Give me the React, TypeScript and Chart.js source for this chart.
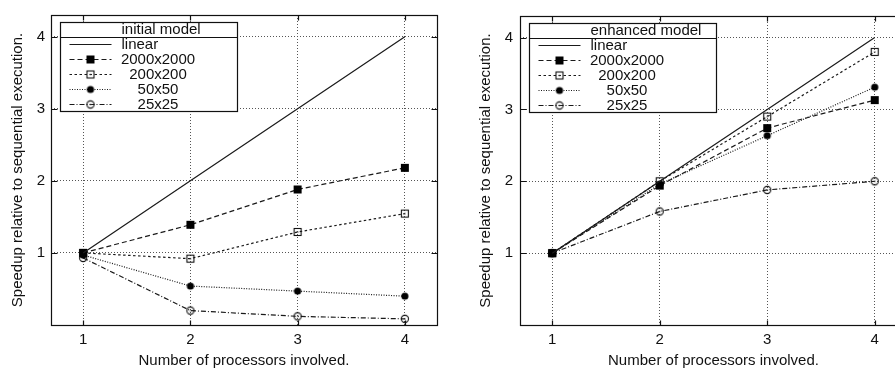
import React, { useEffect, useRef } from "react";
import { Chart, registerables } from "chart.js";
Chart.register(...registerables);

const processors = [1, 2, 3, 4];
const yTicks = [1, 2, 3, 4];
const seriesNames = ["linear", "2000x2000", "200x200", "50x50", "25x25"];

const initialLinear = [1, 2, 3, 4];
const initial2000 = [1.0, 1.39, 1.88, 2.18];
const initial200 = [1.0, 0.92, 1.29, 1.545];
const initial50 = [0.97, 0.54, 0.47, 0.4];
const initial25 = [0.93, 0.2, 0.12, 0.085];

const enhancedLinear = [1, 2, 3, 4];
const enhanced2000 = [1.0, 1.94, 2.74, 3.13];
const enhanced200 = [1.0, 2.0, 2.9, 3.8];
const enhanced50 = [1.0, 1.96, 2.635, 3.31];
const enhanced25 = [1.0, 1.58, 1.88, 2.0];

const FONT = '"Liberation Sans", Arial, Helvetica, sans-serif';

function makeMarker(kind: string): HTMLCanvasElement {
  const c = document.createElement("canvas");
  c.width = 12;
  c.height = 12;
  const g = c.getContext("2d")!;
  g.fillStyle = "#000";
  g.strokeStyle = "#111";
  g.lineWidth = 1.1;
  if (kind === "fsq") {
    g.fillRect(2, 2, 8, 8);
  } else if (kind === "osq") {
    g.strokeRect(2.5, 2.5, 7, 7);
    g.fillStyle = "#444";
    g.fillRect(5.4, 5.4, 1.3, 1.3);
  } else if (kind === "fci") {
    g.beginPath();
    g.arc(6, 6, 3.6, 0, Math.PI * 2);
    g.fill();
  } else {
    g.beginPath();
    g.arc(6, 6, 3.6, 0, Math.PI * 2);
    g.stroke();
    g.fillStyle = "#444";
    g.fillRect(5.4, 5.4, 1.3, 1.3);
  }
  return c;
}

const dashes: number[][] = [[], [5, 3], [2.5, 2.5], [1, 1.5], [5, 2, 1, 2]];
const markerKinds = ["", "fsq", "osq", "fci", "oci"];

const keyPlugin = {
  id: "gnuKey",
  afterDraw(chart: any, _args: any, opts: any) {
    const { ctx, chartArea: a } = chart;
    const xs = chart.scales.x;
    const ys = chart.scales.y;
    ctx.save();
    ctx.setLineDash([]);
    ctx.strokeStyle = "#111";
    ctx.lineWidth = 1.2;
    const L = Math.round(a.left) + 0.5;
    const T = Math.round(a.top) + 0.5;
    const R = Math.round(a.right) + 0.5;
    const B = Math.round(a.bottom) + 0.5;
    ctx.strokeRect(L, T, R - L, B - T);
    ctx.beginPath();
    processors.forEach((v) => {
      const px = Math.round(xs.getPixelForValue(v)) + 0.5;
      ctx.moveTo(px, B);
      ctx.lineTo(px, B - 5);
      ctx.moveTo(px, T);
      ctx.lineTo(px, T + 5);
    });
    yTicks.forEach((v) => {
      const py = Math.round(ys.getPixelForValue(v)) + 0.5;
      ctx.moveTo(L, py);
      ctx.lineTo(L + 6, py);
      ctx.moveTo(R, py);
      ctx.lineTo(R - 6, py);
    });
    ctx.stroke();

    const bx = Math.round(a.left + 9) + 0.5;
    const by = Math.round(a.top + 7) + 0.5;
    const bw = opts.boxWidth;
    const bh = 89;
    ctx.fillStyle = "#fff";
    ctx.fillRect(bx, by, bw, bh);
    ctx.strokeRect(bx, by, bw, bh);
    ctx.beginPath();
    ctx.moveTo(bx, by + 15);
    ctx.lineTo(bx + bw, by + 15);
    ctx.stroke();
    ctx.font = "15px " + FONT;
    ctx.fillStyle = "#111";
    ctx.textBaseline = "middle";
    ctx.textAlign = "left";
    ctx.fillText(opts.title, bx + 61, by + 7);
    chart.data.datasets.forEach((ds: any, i: number) => {
      const y = by + 22 + 15 * i;
      ctx.strokeStyle = ds.borderColor;
      ctx.lineWidth = ds.borderWidth;
      ctx.setLineDash(ds.borderDash || []);
      ctx.beginPath();
      ctx.moveTo(bx + 9, y);
      ctx.lineTo(bx + 51, y);
      ctx.stroke();
      ctx.setLineDash([]);
      const ps = ds.pointStyle;
      if (ps && typeof ps === "object") {
        ctx.drawImage(ps, bx + 30 - ps.width / 2, y - ps.height / 2);
      }
      ctx.fillStyle = "#111";
      if (i === 0) {
        ctx.textAlign = "left";
        ctx.fillText(ds.label, bx + 61, y);
      } else {
        ctx.textAlign = "center";
        ctx.fillText(ds.label, bx + 97.5, y);
      }
    });
    ctx.restore();
  },
};

function buildConfig(
  series: number[][],
  title: string,
  boxWidth: number,
  yAxisWidth: number,
  yTickPad: number,
  yTitlePad: number
): any {
  const datasets = series.map((vals, i) => ({
    label: seriesNames[i],
    data: vals.map((v, j) => ({ x: processors[j], y: v })),
    borderColor: "#1a1a1a",
    borderWidth: 1.2,
    borderDash: dashes[i],
    pointStyle: i === 0 ? "circle" : makeMarker(markerKinds[i]),
    pointRadius: i === 0 ? 0 : 4,
    fill: false,
    tension: 0,
  }));
  return {
    type: "line",
    data: { datasets },
    plugins: [keyPlugin],
    options: {
      responsive: false,
      animation: false,
      layout: { padding: { top: 11, right: 13, left: 0, bottom: 0 } },
      plugins: {
        legend: { display: false },
        tooltip: { enabled: false },
        gnuKey: { title, boxWidth },
      },
      scales: {
        x: {
          type: "linear",
          min: 0.7,
          max: 4.3,
          afterBuildTicks: (s: any) => {
            s.ticks = processors.map((v) => ({ value: v }));
          },
          afterFit: (s: any) => {
            s.height = 45;
          },
          grid: { color: "#555", lineWidth: 1, drawTicks: false },
          border: { display: false, dash: [1, 2] },
          ticks: {
            padding: 6,
            color: "#111",
            font: { family: FONT, size: 15 },
            callback: (v: any) => String(v),
          },
          title: {
            display: true,
            text: "Number of processors involved.",
            color: "#111",
            font: { family: FONT, size: 15 },
            padding: { top: 0, bottom: 0 },
          },
        },
        y: {
          type: "linear",
          min: 0,
          max: 4.3,
          afterBuildTicks: (s: any) => {
            s.ticks = yTicks.map((v) => ({ value: v }));
          },
          afterFit: (s: any) => {
            s.width = yAxisWidth;
          },
          grid: { color: "#555", lineWidth: 1, drawTicks: false },
          border: { display: false, dash: [1, 2] },
          ticks: {
            padding: yTickPad,
            color: "#111",
            font: { family: FONT, size: 15 },
            callback: (v: any) => String(v),
          },
          title: {
            display: true,
            text: "Speedup relative to sequential execution.",
            color: "#111",
            font: { family: FONT, size: 15 },
            padding: { top: yTitlePad, bottom: 0 },
          },
        },
      },
    },
  };
}

function Panel(props: {
  left: number;
  width: number;
  series: number[][];
  title: string;
  boxWidth: number;
  yAxisWidth: number;
  yTickPad: number;
  yTitlePad: number;
}) {
  const ref = useRef<HTMLCanvasElement | null>(null);
  useEffect(() => {
    if (!ref.current) return;
    const chart = new Chart(
      ref.current,
      buildConfig(props.series, props.title, props.boxWidth, props.yAxisWidth, props.yTickPad, props.yTitlePad)
    );
    return () => chart.destroy();
  }, []);
  return (
    <canvas
      ref={ref}
      width={props.width}
      height={370}
      style={{ position: "absolute", left: props.left, top: 0, width: props.width, height: 370, display: "block" }}
    />
  );
}

export default function App() {
  return (
    <div
      style={{
        position: "fixed",
        left: 0,
        top: 0,
        width: 895,
        height: 370,
        overflow: "hidden",
        background: "#fff",
      }}
    >
      <Panel
        left={0}
        width={450}
        series={[initialLinear, initial2000, initial200, initial50, initial25]}
        title="initial model"
        boxWidth={177}
        yAxisWidth={51}
        yTickPad={6}
        yTitlePad={9}
      />
      <Panel
        left={450}
        width={470}
        series={[enhancedLinear, enhanced2000, enhanced200, enhanced50, enhanced25]}
        title="enhanced model"
        boxWidth={187}
        yAxisWidth={70}
        yTickPad={7}
        yTitlePad={27}
      />
    </div>
  );
}
